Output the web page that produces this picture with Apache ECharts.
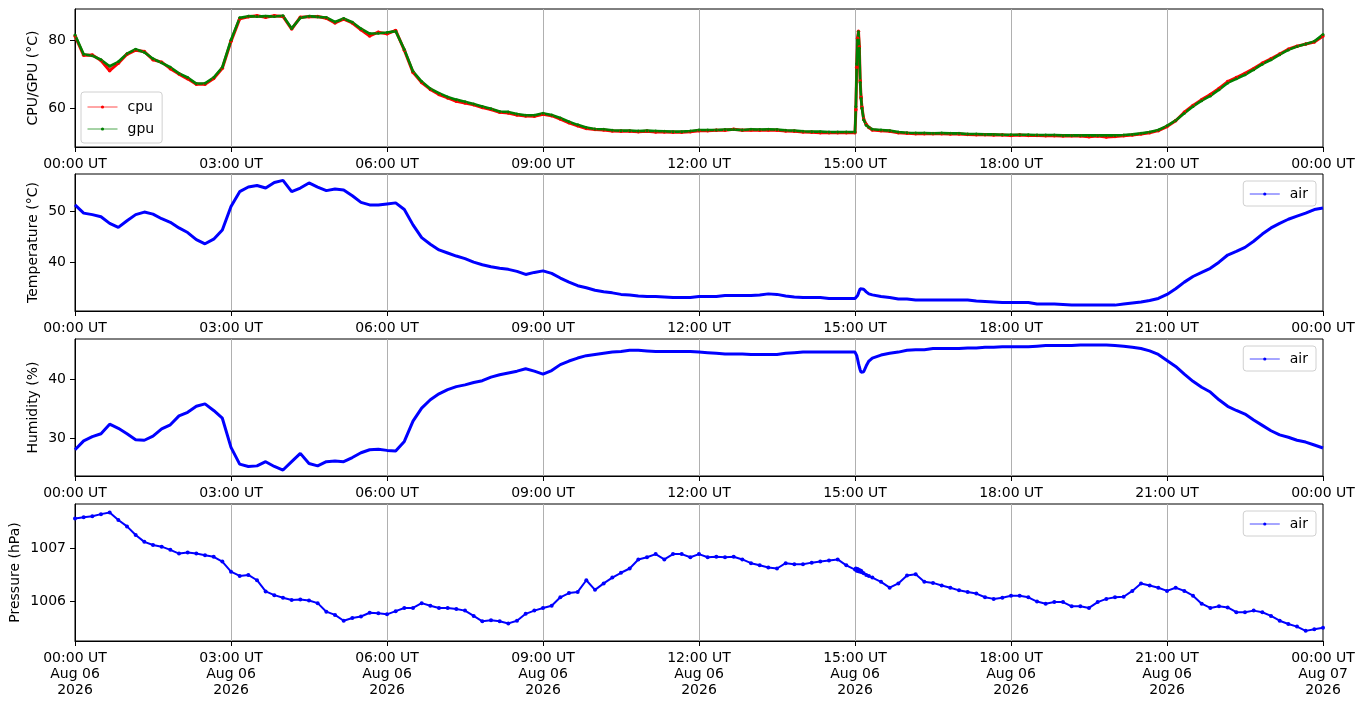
<!DOCTYPE html>
<html>
<head>
<meta charset="utf-8">
<title>cpu / air</title>
<script src="https://cdn.jsdelivr.net/npm/echarts@6/dist/echarts.min.js"></script>
<style>
  html, body { margin: 0; padding: 0; background: #fff; }
  #main { width: 1364px; height: 707px; }
</style>
</head>
<body>
<div id="main"></div>
<script>
// sample times, minutes after 00:00 UT Aug 06 (extra samples around the 15:00 spike)
var times = [
  0, 10, 20, 30, 40, 50,
  60, 70, 80, 90, 100, 110,
  120, 130, 140, 150, 160, 170,
  180, 190, 200, 210, 220, 230,
  240, 250, 260, 270, 280, 290,
  300, 310, 320, 330, 340, 350,
  360, 370, 380, 390, 400, 410,
  420, 430, 440, 450, 460, 470,
  480, 490, 500, 510, 520, 530,
  540, 550, 560, 570, 580, 590,
  600, 610, 620, 630, 640, 650,
  660, 670, 680, 690, 700, 710,
  720, 730, 740, 750, 760, 770,
  780, 790, 800, 810, 820, 830,
  840, 850, 860, 870, 880, 890,
  900, 901, 902, 903, 904, 905, 906, 907, 908, 910, 913, 916, 920, 930, 940, 950,
  960, 970, 980, 990, 1000, 1010,
  1020, 1030, 1040, 1050, 1060, 1070,
  1080, 1090, 1100, 1110, 1120, 1130,
  1140, 1150, 1160, 1170, 1180, 1190,
  1200, 1210, 1220, 1230, 1240, 1250,
  1260, 1270, 1280, 1290, 1300, 1310,
  1320, 1330, 1340, 1350, 1360, 1370,
  1380, 1390, 1400, 1410, 1420, 1430,
  1440
];

var cpu = [
  81.2, 75.5, 75.6, 74.0, 71.0, 73.2,
  75.8, 77.0, 76.6, 74.2, 73.5, 71.6,
  70.0, 68.6, 67.0, 67.0, 68.7, 71.7,
  79.6, 86.2, 86.8, 87.1, 86.7, 87.1,
  86.9, 83.2, 86.7, 86.8, 86.9, 86.4,
  85.0, 86.1, 85.0, 83.0, 81.2, 82.3,
  81.8, 82.8, 77.0, 70.5, 67.5, 65.5,
  64.0, 63.0, 62.0, 61.5, 61.0, 60.2,
  59.6, 58.8, 58.6, 58.0, 57.7, 57.6,
  58.2, 57.8, 56.8, 55.7, 54.8, 54.0,
  53.7, 53.6, 53.3, 53.2, 53.2, 53.1,
  53.2, 53.0, 53.0, 52.9, 52.9, 53.1,
  53.4, 53.4, 53.5, 53.5, 53.8, 53.5,
  53.6, 53.5, 53.6, 53.5, 53.3, 53.2,
  53.0, 52.9, 52.8, 52.8, 52.8, 52.8,
  52.8, 59.5, 72.0, 80.5, 82.6, 78.0, 68.0, 63.2, 60.3, 56.8, 55.2, 54.3, 53.6, 53.4, 53.2, 52.8,
  52.6, 52.5, 52.5, 52.5, 52.5, 52.4,
  52.4, 52.3, 52.2, 52.2, 52.1, 52.1,
  52.0, 52.1, 52.0, 52.0, 51.9, 51.9,
  51.8, 51.9, 51.8, 51.6, 51.8, 51.5,
  51.7, 51.9, 52.1, 52.4, 52.8, 53.4,
  54.6, 56.3, 58.8, 60.8, 62.5, 64.0,
  65.8, 67.8, 69.0, 70.2, 71.6, 73.2,
  74.5, 75.9, 77.3, 78.2, 78.8, 79.4,
  81.2
];

var gpu = [
  81.5, 75.8, 75.4, 74.2, 72.3, 73.6,
  76.0, 77.3, 76.4, 74.5, 73.3, 72.0,
  70.2, 69.0, 67.2, 67.3, 69.0, 72.0,
  80.0, 86.5, 87.0, 86.9, 87.0, 86.9,
  87.1, 83.4, 86.5, 87.0, 86.8, 86.6,
  85.3, 86.3, 85.2, 83.3, 81.9, 82.0,
  82.2, 82.6, 77.2, 70.8, 67.8, 65.7,
  64.4, 63.3, 62.5, 61.9, 61.2, 60.5,
  59.8, 59.0, 58.9, 58.3, 57.9, 57.9,
  58.5, 58.0, 57.1, 56.0, 55.1, 54.3,
  53.9, 53.8, 53.5, 53.4, 53.4, 53.3,
  53.4, 53.3, 53.2, 53.1, 53.1, 53.3,
  53.6, 53.6, 53.6, 53.7, 53.7, 53.6,
  53.8, 53.7, 53.8, 53.7, 53.5, 53.4,
  53.2, 53.1, 53.1, 53.0, 53.0, 53.0,
  53.0, 60.5, 73.0, 80.0, 82.4, 77.6, 67.5, 62.8, 60.0, 56.6, 55.0, 54.4, 53.8, 53.6, 53.4, 53.0,
  52.8, 52.7, 52.7, 52.6, 52.7, 52.6,
  52.6, 52.4, 52.4, 52.3, 52.3, 52.2,
  52.2, 52.2, 52.2, 52.1, 52.1, 52.1,
  52.0, 52.0, 52.0, 52.0, 52.0, 52.0,
  52.0, 52.1, 52.3, 52.6, 53.0, 53.6,
  54.8, 56.4, 58.5, 60.5, 62.2, 63.6,
  65.4, 67.4, 68.6, 69.8, 71.3, 72.9,
  74.2, 75.7, 77.1, 78.1, 78.8, 79.6,
  81.6
];

var airTemp = [
  51.2, 49.6, 49.3, 48.9, 47.6, 46.8,
  48.1, 49.3, 49.8, 49.4, 48.5, 47.8,
  46.7, 45.8, 44.4, 43.6, 44.5, 46.3,
  50.9, 53.8, 54.7, 55.0, 54.5, 55.6,
  56.0, 53.8, 54.5, 55.5, 54.7, 54.0,
  54.3, 54.1, 53.0, 51.7, 51.2, 51.2,
  51.4, 51.6, 50.3, 47.3, 44.8, 43.5,
  42.4, 41.8, 41.2, 40.7, 40.0, 39.5,
  39.1, 38.8, 38.6, 38.2, 37.6, 38.0,
  38.3, 37.8, 36.9, 36.1, 35.4, 35.0,
  34.5, 34.2, 34.0, 33.7, 33.6, 33.4,
  33.3, 33.3, 33.2, 33.1, 33.1, 33.1,
  33.3, 33.3, 33.3, 33.5, 33.5, 33.5,
  33.5, 33.6, 33.8, 33.7, 33.4, 33.2,
  33.1, 33.1, 33.1, 32.9, 32.9, 32.9,
  32.9, 33.0, 33.2, 33.5, 33.9, 34.4, 34.8, 35.0, 35.0, 34.7, 34.2, 33.8, 33.6, 33.3, 33.1, 32.8,
  32.8, 32.6, 32.6, 32.6, 32.6, 32.6,
  32.6, 32.6, 32.4, 32.3, 32.2, 32.1,
  32.1, 32.1, 32.1, 31.8, 31.8, 31.8,
  31.7, 31.6, 31.6, 31.6, 31.6, 31.6,
  31.6, 31.8, 32.0, 32.2, 32.5, 32.9,
  33.7, 34.8, 36.1, 37.2, 38.0, 38.8,
  40.0, 41.4, 42.1, 42.9, 44.1, 45.5,
  46.7, 47.6, 48.4, 49.0, 49.6, 50.3,
  50.6
];

var airHum = [
  28.1, 29.6, 30.3, 30.8, 32.4, 31.7,
  30.8, 29.8, 29.7, 30.4, 31.6, 32.3,
  33.8, 34.4, 35.4, 35.8, 34.7, 33.4,
  28.5, 25.7, 25.3, 25.4, 26.1, 25.3,
  24.7, 26.1, 27.5, 25.8, 25.4, 26.1,
  26.2, 26.1, 26.8, 27.6, 28.1, 28.2,
  28.0, 27.9, 29.5, 32.9, 35.1, 36.5,
  37.5, 38.2, 38.7, 39.0, 39.4, 39.7,
  40.3, 40.7, 41.0, 41.3, 41.7, 41.3,
  40.8, 41.4, 42.4, 43.0, 43.5, 43.9,
  44.1, 44.3, 44.5, 44.6, 44.8, 44.8,
  44.7, 44.6, 44.6, 44.6, 44.6, 44.6,
  44.5, 44.4, 44.3, 44.2, 44.2, 44.2,
  44.1, 44.1, 44.1, 44.1, 44.3, 44.4,
  44.5, 44.5, 44.5, 44.5, 44.5, 44.5,
  44.5, 44.3, 43.9, 43.3, 42.6, 42.0, 41.5, 41.1, 40.9, 41.2, 42.2, 43.0, 43.5, 44.0, 44.3, 44.5,
  44.8, 44.9, 44.9, 45.1, 45.1, 45.1,
  45.1, 45.2, 45.2, 45.3, 45.3, 45.4,
  45.4, 45.4, 45.4, 45.5, 45.6, 45.6,
  45.6, 45.6, 45.7, 45.7, 45.7, 45.7,
  45.6, 45.5, 45.3, 45.1, 44.7, 44.1,
  43.1, 42.1, 40.8, 39.6, 38.6, 37.8,
  36.5, 35.4, 34.7, 34.1, 33.1, 32.2,
  31.3, 30.6, 30.2, 29.7, 29.4, 28.9,
  28.4
];

var airPres = [
  1007.56, 1007.58, 1007.60, 1007.64, 1007.67, 1007.53,
  1007.41, 1007.25, 1007.12, 1007.06, 1007.03, 1006.97,
  1006.90, 1006.92, 1006.90, 1006.87, 1006.84, 1006.75,
  1006.56, 1006.48, 1006.50, 1006.40, 1006.19, 1006.12,
  1006.07, 1006.03, 1006.04, 1006.02, 1005.97, 1005.81,
  1005.75, 1005.64, 1005.69, 1005.72, 1005.79, 1005.78,
  1005.76, 1005.82, 1005.88, 1005.88, 1005.97, 1005.92,
  1005.88, 1005.88, 1005.86, 1005.83, 1005.73, 1005.63,
  1005.65, 1005.63, 1005.59, 1005.64, 1005.77, 1005.83,
  1005.88, 1005.92, 1006.08, 1006.16, 1006.18, 1006.40,
  1006.22, 1006.34, 1006.45, 1006.54, 1006.62, 1006.79,
  1006.83, 1006.89, 1006.79, 1006.89, 1006.89, 1006.83,
  1006.89, 1006.83, 1006.84, 1006.83, 1006.84, 1006.79,
  1006.72, 1006.68, 1006.64, 1006.62, 1006.72, 1006.70,
  1006.70, 1006.73, 1006.75, 1006.77, 1006.79, 1006.68,
  1006.60, 1006.62, 1006.58, 1006.61, 1006.57, 1006.59, 1006.56, 1006.58, 1006.55, 1006.53, 1006.50, 1006.48, 1006.45, 1006.37, 1006.26, 1006.34,
  1006.49, 1006.51, 1006.37, 1006.35, 1006.30, 1006.26,
  1006.21, 1006.18, 1006.15, 1006.08, 1006.05, 1006.07,
  1006.11, 1006.11, 1006.08, 1006.00, 1005.96, 1005.99,
  1005.99, 1005.91, 1005.91, 1005.88, 1005.99, 1006.05,
  1006.08, 1006.09, 1006.20, 1006.34, 1006.30, 1006.26,
  1006.20, 1006.26, 1006.20, 1006.11, 1005.96, 1005.88,
  1005.91, 1005.89, 1005.80, 1005.80, 1005.83, 1005.80,
  1005.73, 1005.64, 1005.58, 1005.53, 1005.45, 1005.48,
  1005.51
];

// tick labels
var cpuTicks = [60, 80];
var tempTicks = [40, 50];
var humTicks = [30, 40];
var presTicks = [1006, 1007];
var dayLabels = ['Aug 06', 'Aug 07'];
var yearLabel = '2026';

var FONT = 'DejaVu Sans';

// 把时间和数值拼成 [x, y]
function pairs(vals) {
    return times.map(function (t, i) {
        return [t, vals[i]];
    });
}

function pad2(n) {
    return (n < 10 ? '0' : '') + n;
}

var grids = [
    {left: 75, right: 41, top: 9, height: 138},
    {left: 75, right: 41, top: 174, height: 137},
    {left: 75, right: 41, top: 339, height: 137},
    {left: 75, right: 41, top: 504, height: 137}
];

function makeX(idx, withDate) {
    return {
        type: 'value',
        gridIndex: idx,
        min: 0,
        max: 1440,
        interval: 180,
        axisLine: {show: true, onZero: false, lineStyle: {color: '#000', width: 1}},
        axisTick: {show: true, length: 5, lineStyle: {color: '#000', width: 1}},
        splitLine: {show: true, showMinLine: false, showMaxLine: false, lineStyle: {color: '#b0b0b0', width: 1}},
        axisLabel: {
            margin: 9,
            color: '#000',
            fontFamily: FONT,
            fontSize: 14,
            lineHeight: 16,
            showMinLabel: true,
            showMaxLabel: true,
            formatter: function (v) {
                var s = pad2(Math.round(v / 60) % 24) + ':00 UT';
                if (withDate) {
                    s += '\n' + (v >= 1440 ? dayLabels[1] : dayLabels[0]) + '\n' + yearLabel;
                }
                return s;
            }
        }
    };
}

function makeY(idx, name, min, max, ticks, gap) {
    return {
        type: 'value',
        gridIndex: idx,
        min: min,
        max: max,
        splitNumber: 2,
        name: name,
        nameLocation: 'middle',
        nameGap: gap,
        nameMoveOverlap: false,
        nameTextStyle: {color: '#000', fontFamily: FONT, fontSize: 14},
        axisLine: {show: true, onZero: false, lineStyle: {color: '#000', width: 1}},
        axisTick: {show: true, length: 5, customValues: ticks, lineStyle: {color: '#000', width: 1}},
        splitLine: {show: true, showMinLine: false, showMaxLine: false, lineStyle: {color: '#b0b0b0', width: 1}},
        axisLabel: {
            margin: 9,
            color: '#000',
            fontFamily: FONT,
            fontSize: 14,
            customValues: ticks,
            formatter: function (v) {
                return String(v);
            }
        }
    };
}

function makeLine(name, vals, idx, color, lw, symSize, showSym) {
    return {
        name: name,
        type: 'line',
        xAxisIndex: idx,
        yAxisIndex: idx,
        data: pairs(vals),
        symbol: 'circle',
        symbolSize: symSize,
        showSymbol: showSym,
        showAllSymbol: true,
        lineStyle: {color: color, width: lw},
        itemStyle: {color: color},
        emphasis: {disabled: true}
    };
}

function airLegend(top) {
    return {
        data: ['air'],
        right: 48,
        top: top,
        orient: 'vertical',
        itemWidth: 30,
        itemHeight: 4,
        padding: [6, 8, 5, 6],
        backgroundColor: 'rgba(255,255,255,0.8)',
        borderColor: '#d0d0d0',
        borderWidth: 1,
        borderRadius: 3,
        lineStyle: {width: 1, opacity: 0.7},
        textStyle: {color: '#000', fontFamily: FONT, fontSize: 14, padding: [0, 0, 0, 5]},
        selectedMode: false
    };
}

var chart = echarts.init(document.getElementById('main'), null, {renderer: 'canvas'});

chart.setOption({
    animation: false,
    backgroundColor: '#fff',
    grid: grids.map(function (g) {
        return Object.assign({
            show: true,
            borderColor: '#000',
            borderWidth: 1,
            backgroundColor: 'transparent',
            containLabel: false,
            outerBoundsMode: 'none'
        }, g);
    }),
    xAxis: [makeX(0, false), makeX(1, false), makeX(2, false), makeX(3, true)],
    yAxis: [
        makeY(0, 'CPU/GPU (°C)', 48.6, 89.1, cpuTicks, 35),
        makeY(1, 'Temperature (°C)', 30.45, 57.25, tempTicks, 35),
        makeY(2, 'Humidity (%)', 23.7, 46.7, humTicks, 35),
        makeY(3, 'Pressure (hPa)', 1005.26, 1007.83, presTicks, 53)
    ],
    legend: [
        {
            data: ['cpu', 'gpu'],
            left: 81,
            top: 92,
            orient: 'vertical',
            itemWidth: 30,
            itemHeight: 4,
            itemGap: 8,
            padding: [8, 8, 7, 6],
            backgroundColor: 'rgba(255,255,255,0.8)',
            borderColor: '#d0d0d0',
            borderWidth: 1,
            borderRadius: 3,
            lineStyle: {width: 1, opacity: 0.7},
            textStyle: {color: '#000', fontFamily: FONT, fontSize: 14, padding: [0, 0, 0, 5]},
            selectedMode: false
        },
        airLegend(181),
        airLegend(346),
        airLegend(511)
    ],
    series: [
        makeLine('cpu', cpu, 0, '#ff0000', 3, 3.5, true),
        makeLine('gpu', gpu, 0, '#008000', 2.6, 3, true),
        makeLine('air', airTemp, 1, '#0000ff', 3, 3, false),
        makeLine('air', airHum, 2, '#0000ff', 3, 3, false),
        makeLine('air', airPres, 3, '#0000ff', 2, 4, true)
    ]
});
</script>
</body>
</html>
